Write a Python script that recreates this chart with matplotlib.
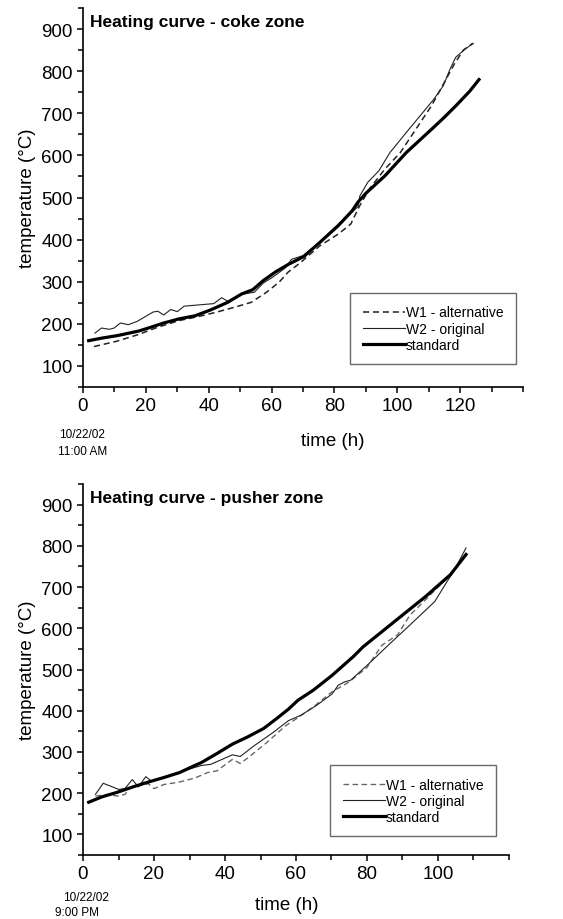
import matplotlib
matplotlib.use("Agg")
import matplotlib.pyplot as plt
from matplotlib.ticker import MultipleLocator

plt.rcParams['font.family'] = ['Liberation Sans', 'DejaVu Sans']

# ---- coke zone (top) ----
coke_std_t = [1.8, 5.9, 10.9, 17.8, 20.8, 25.7, 30.7, 35.6, 40.6, 46, 50.5, 54, 57.4,
              61.4, 65.3, 70.3, 75.3, 81.2, 85.6, 87.6, 90, 96, 102.9, 110.9, 114.9,
              118.8, 123, 126]
coke_std_T = [160, 166, 172, 183, 190, 202, 212, 219, 233, 251, 271, 281, 303,
              324, 341, 360, 393, 433, 468, 490, 510, 551, 607, 662, 690,
              719, 752, 780]

coke_w2_t = [3.8, 5.9, 8.4, 9.9, 11.9, 14.4, 17.3, 19.8, 22.3, 23.8, 25.7, 27.9, 30,
             32.2, 41.6, 44.1, 46, 50.5, 54.5, 57.4, 60.4, 64.4, 66.3, 70, 75, 80,
             85, 87.5, 88.1, 90.6, 94.1, 97.7, 103.7, 111.6, 114.6, 116.8, 118.6,
             121.5, 124.2]
coke_w2_T = [178, 190, 187, 190, 202, 198, 206, 217, 228, 230, 221, 234, 229,
             242, 248, 262, 254, 270, 275, 297, 311, 333, 353, 362, 392, 428,
             462, 478, 504, 536, 563, 607, 662, 733, 765, 805, 833,
             852, 866]

coke_w1_t = [3.5, 10.9, 17.8, 23.8, 30.7, 36.6, 42.6, 48.5, 53.5, 58.4, 62.4, 65.3,
             69.3, 75.3, 81.2, 85.2, 88, 91.1, 96, 101, 105.9, 110.9, 114, 118, 121,
             124]
coke_w1_T = [146, 159, 175, 192, 208, 217, 228, 240, 251, 275, 299, 323,
             346, 385, 413, 437, 480, 520, 567, 607, 662, 718, 760, 815, 850,
             866]

# ---- pusher zone (bottom) ----
push_std_t = [1.6, 5.3, 9.6, 14, 18.4, 22.8, 27.2, 30.7, 33.3, 37.7, 42.1, 46.5,
              50.9, 54.4, 57.9, 60.5, 64.9, 70.2, 76.1, 78.9, 87.7, 96.5, 103.5,
              107.9]
push_std_T = [178, 191, 202, 215, 227, 238, 250, 264, 274, 296, 319, 337,
              357, 380, 404, 425, 450, 486, 531, 555, 616, 677, 730,
              779]

push_w2_t = [3.5, 5.7, 10.1, 11.8, 13.9, 15.6, 17.7, 19.3, 24, 29.8, 33.3, 36,
             42.1, 44.3, 48.2, 53.5, 57.9, 61.4, 65.8, 70.2, 71.9, 73.7, 75.4,
             80, 86, 92.1, 99.1, 102.6, 104.4, 107.9]
push_w2_T = [197, 224, 209, 211, 233, 215, 240, 229, 240, 258, 267, 270,
             293, 289, 315, 347, 376, 389, 413, 441, 462, 470, 474,
             510, 559, 608, 665, 714, 738, 795]

push_w1_t = [3.5, 7, 9.6, 11.8, 13.2, 15.4, 18.4, 20, 22.8, 27.2, 31.6, 35.1,
             37.7, 42.1, 44.3, 46.5, 51.8, 57, 60, 65, 70, 75, 80, 84.2, 88.6,
             92.1, 96, 100, 104, 108]
push_w1_T = [193, 197, 193, 197, 213, 217, 223, 211, 221, 227, 237, 250,
             254, 282, 272, 286, 323, 363, 380, 410, 445, 470, 505, 559, 584,
             632, 665, 700, 735, 780]

W, H = 563, 920
fig = plt.figure(figsize=(W / 100, H / 100), dpi=100)


def make_axes(left, right, top, bottom):
    return fig.add_axes([left / W, 1 - bottom / H, (right - left) / W, (bottom - top) / H])


def style(ax, xmax):
    ax.set_xlim(0, xmax)
    ax.set_ylim(50, 950)
    for s in ['top', 'right']:
        ax.spines[s].set_visible(False)
    for s in ['left', 'bottom']:
        ax.spines[s].set_linewidth(1.2)
    ax.xaxis.set_major_locator(MultipleLocator(20))
    ax.xaxis.set_minor_locator(MultipleLocator(10))
    ax.yaxis.set_major_locator(MultipleLocator(100))
    ax.yaxis.set_minor_locator(MultipleLocator(50))
    ax.set_yticks([100, 200, 300, 400, 500, 600, 700, 800, 900])
    ax.tick_params(which='major', direction='out', length=4.5, width=1.1,
                   labelsize=13.5, pad=3)
    ax.tick_params(which='minor', direction='out', length=3.5, width=1.1)
    ax.set_ylabel('temperature (°C)', fontsize=13.5, labelpad=4)


# top panel
ax1 = make_axes(83, 523, 9, 388)
ax1.plot(coke_w1_t, coke_w1_T, color='#222222', lw=1.1, ls=(0, (4, 2.5)),
         label='W1 - alternative')
ax1.plot(coke_w2_t, coke_w2_T, color='#222222', lw=0.8, label='W2 - original')
ax1.plot(coke_std_t, coke_std_T, color='black', lw=2.3, label='standard')
style(ax1, 140)
ax1.set_xticks([0, 20, 40, 60, 80, 100, 120])
ax1.set_xlabel('time (h)', fontsize=13.5)
ax1.xaxis.set_label_coords(0.568, -0.118)
ax1.text(0.016, 0.985, 'Heating curve - coke zone', transform=ax1.transAxes,
         fontsize=12.5, fontweight='bold', va='top', ha='left')
ax1.legend(loc='lower right', bbox_to_anchor=(1.0, 0.042), fontsize=10,
           frameon=True, fancybox=False, edgecolor='#444444', handlelength=3,
           handletextpad=0.1, borderpad=0.9, labelspacing=0.15)
fig.text(82 / W, 1 - 435 / H, '10/22/02', fontsize=8.5, ha='center', va='center')
fig.text(83 / W, 1 - 452 / H, '11:00 AM', fontsize=8.5, ha='center', va='center')

# bottom panel
ax2 = make_axes(83, 509, 485, 856)
ax2.plot(push_w1_t, push_w1_T, color='#666666', lw=1.0, ls=(0, (4, 2.5)),
         label='W1 - alternative')
ax2.plot(push_w2_t, push_w2_T, color='#222222', lw=0.8, label='W2 - original')
ax2.plot(push_std_t, push_std_T, color='black', lw=2.3, label='standard')
style(ax2, 120)
ax2.set_xticks([0, 20, 40, 60, 80, 100])
ax2.set_xlabel('time (h)', fontsize=13.5)
ax2.xaxis.set_label_coords(0.479, -0.11)
ax2.text(0.016, 0.985, 'Heating curve - pusher zone', transform=ax2.transAxes,
         fontsize=12.5, fontweight='bold', va='top', ha='left')
ax2.legend(loc='lower right', bbox_to_anchor=(0.986, 0.032), fontsize=10,
           frameon=True, fancybox=False, edgecolor='#444444', handlelength=3,
           handletextpad=0.1, borderpad=0.9, labelspacing=0.15)
fig.text(86 / W, 1 - 898 / H, '10/22/02', fontsize=8.5, ha='center', va='center')
fig.text(77 / W, 1 - 913 / H, '9:00 PM', fontsize=8.5, ha='center', va='center')

fig.savefig('out.png', dpi=100)
